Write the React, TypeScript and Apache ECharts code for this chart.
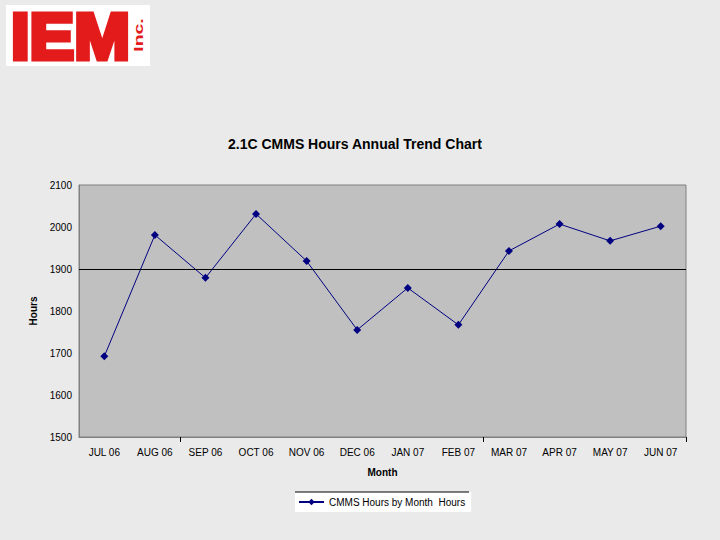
import React, { useEffect, useRef } from "react";
import * as echarts from "echarts";

const months = ["JUL 06", "AUG 06", "SEP 06", "OCT 06", "NOV 06", "DEC 06", "JAN 07", "FEB 07", "MAR 07", "APR 07", "MAY 07", "JUN 07"];
const hours = [1692, 1981, 1879, 2031, 1919, 1755, 1855, 1767, 1943, 2007, 1967, 2002];
const yTicks = [1500, 1600, 1700, 1800, 1900, 2000, 2100];
const referenceLine = 1900;
const seriesName = "CMMS Hours by Month  Hours";
const titleText = "2.1C CMMS Hours Annual Trend Chart";

export default function App() {
  const ref = useRef<HTMLDivElement>(null);
  useEffect(() => {
    if (!ref.current) return;
    const chart = echarts.init(ref.current, null, { renderer: "svg" });
    const font = "Liberation Sans, Arial, sans-serif";
    chart.setOption({
      animation: false,
      backgroundColor: "#eaeaea",
      textStyle: { fontFamily: font },
      title: {
        text: titleText,
        left: 223,
        top: 132,
        textStyle: { fontSize: 14, fontWeight: "bold", color: "#000", fontFamily: font },
      },
      grid: {
        left: 79,
        right: 34,
        top: 185,
        bottom: 103,
        show: true,
        backgroundColor: "#c0c0c0",
        borderColor: "#808080",
        borderWidth: 1,
      },
      legend: {
        left: 295,
        top: 492,
        padding: [5, 6, 5, 3],
        backgroundColor: "#ffffff",
        itemWidth: 25,
        itemHeight: 8,
        textStyle: { fontSize: 10, color: "#000", fontFamily: font },
        data: [seriesName],
      },
      xAxis: {
        type: "category",
        data: months,
        boundaryGap: true,
        name: "Month",
        nameLocation: "middle",
        nameGap: 30,
        nameTextStyle: { fontSize: 10, fontWeight: "bold", color: "#000" },
        axisLine: { show: true, lineStyle: { color: "#808080" } },
        axisTick: {
          show: true,
          length: 5,
          inside: false,
          interval: (i: number) => i === 2 || i === 8,
          lineStyle: { color: "#000" },
        },
        axisLabel: { fontSize: 10, color: "#000", margin: 10, interval: 0 },
        splitLine: { show: false },
      },
      yAxis: {
        type: "value",
        min: yTicks[0],
        max: yTicks[yTicks.length - 1],
        interval: 100,
        name: "Hours",
        nameLocation: "middle",
        nameGap: 35,
        nameTextStyle: { fontSize: 10, fontWeight: "bold", color: "#000" },
        axisLine: { show: true, lineStyle: { color: "#808080" } },
        axisTick: { show: false },
        axisLabel: { fontSize: 10, color: "#000", margin: 7, formatter: (v: number) => String(v) },
        splitLine: { show: false },
      },
      series: [
        {
          name: seriesName,
          type: "line",
          data: hours,
          symbol: "diamond",
          symbolSize: 8,
          lineStyle: { color: "#000080", width: 1 },
          itemStyle: { color: "#000080" },
          markLine: {
            silent: true,
            symbol: "none",
            label: { show: false },
            lineStyle: { color: "#000", width: 1, type: "solid" },
            data: [{ yAxis: referenceLine }],
          },
        },
      ],
      graphic: [
        {
          type: "rect",
          shape: { x: 6, y: 5, width: 144, height: 61 },
          style: { fill: "#ffffff" },
        },
        {
          type: "text",
          x: 11,
          y: 36,
          scaleX: 1.03,
          style: {
            text: "IEM",
            fill: "#e31b1b",
            stroke: "#e31b1b",
            lineWidth: 5,
            font: "bold 65px Liberation Sans, Arial, sans-serif",
            textAlign: "left",
            textVerticalAlign: "middle",
          },
        },
        {
          type: "text",
          x: 139,
          y: 35,
          rotation: Math.PI / 2,
          scaleX: 1.5,
          style: {
            text: "Inc.",
            fill: "#e31b1b",
            font: "bold 13px Liberation Sans, Arial, sans-serif",
            textAlign: "center",
            textVerticalAlign: "middle",
          },
        },
        {
          type: "line",
          shape: { x1: 295, y1: 492, x2: 469, y2: 492 },
          style: { stroke: "#000", lineWidth: 1 },
          z: 100,
        },
      ],
    });
    return () => chart.dispose();
  }, []);
  return <div ref={ref} style={{ position: "fixed", left: 0, top: 0, width: 720, height: 540 }} />;
}
